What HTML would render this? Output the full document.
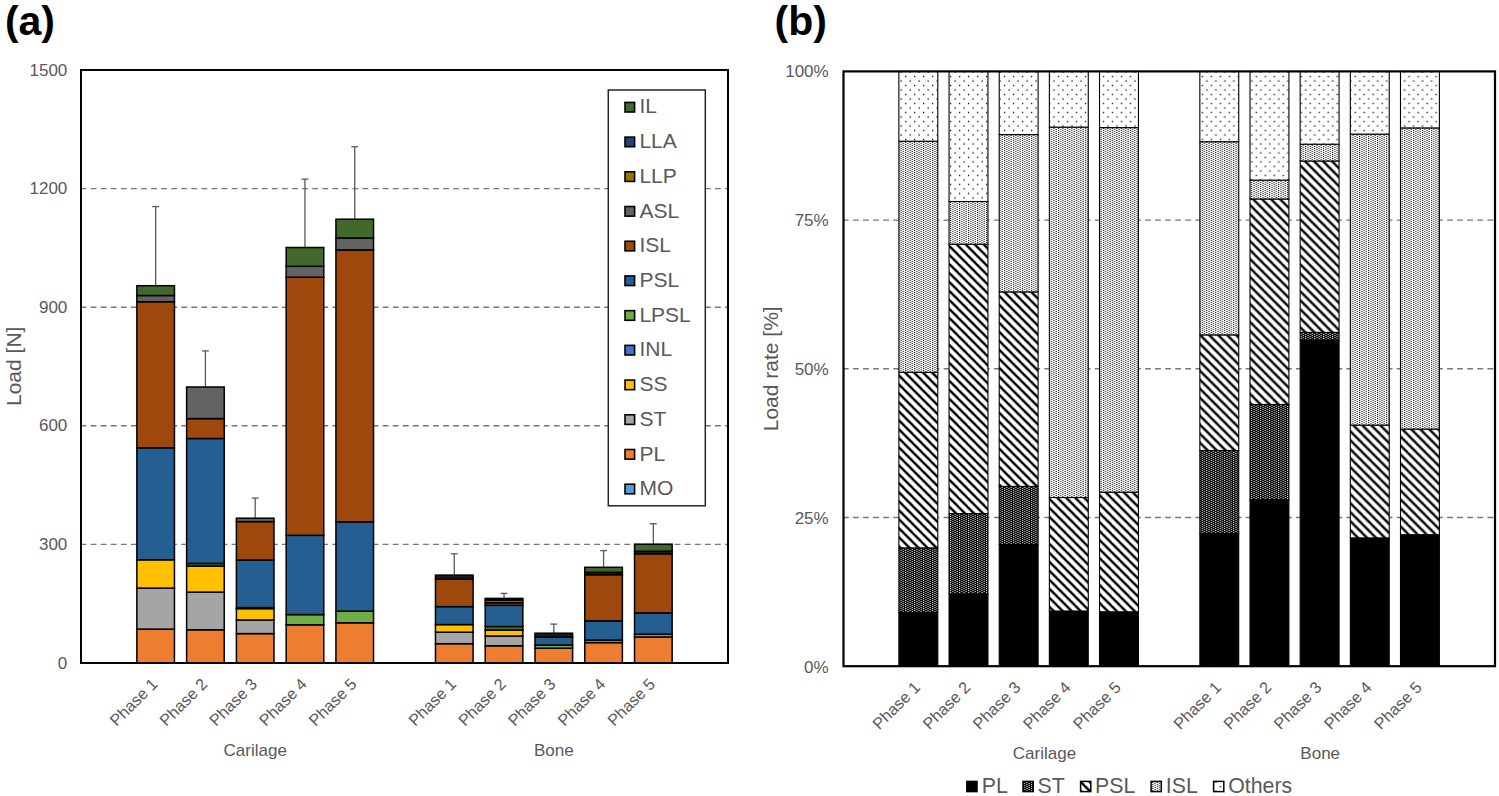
<!DOCTYPE html><html><head><meta charset="utf-8"><style>html,body{margin:0;padding:0;background:#fff;width:1499px;height:796px;overflow:hidden}svg{display:block}text{font-family:"Liberation Sans", sans-serif}</style></head><body>
<svg width="1499" height="796" viewBox="0 0 1499 796">
<defs>
<pattern id="pPSL" patternUnits="userSpaceOnUse" width="8.99" height="8.99" patternTransform="translate(6.04,3.92)"><rect width="8.99" height="8.99" fill="#fff"/><polygon points="-10.676,0 -7.304,0 1.686,8.99 -1.686,8.99" fill="#000"/><polygon points="-1.686,0 1.686,0 10.676,8.99 7.304,8.99" fill="#000"/><polygon points="7.304,0 10.676,0 19.666,8.99 16.294,8.99" fill="#000"/></pattern>
<pattern id="pOT" patternUnits="userSpaceOnUse" width="8.99" height="8.99" patternTransform="translate(6.04,3.92)"><rect width="8.99" height="8.99" fill="#fff"/><rect x="0" y="0" width="1.292" height="1.292" fill="#000"/><rect x="4.495" y="4.495" width="1.292" height="1.292" fill="#000"/></pattern>
<pattern id="pISL" patternUnits="userSpaceOnUse" width="4.495" height="2" patternTransform="translate(6.04,3.92)"><rect width="4.495" height="2" fill="#fff"/><rect x="0" y="0" width="1.124" height="1" fill="#000"/><rect x="2.248" y="1" width="1.124" height="1" fill="#000"/></pattern>
<pattern id="pST" patternUnits="userSpaceOnUse" width="4.495" height="2" patternTransform="translate(6.04,3.92)"><rect width="4.495" height="2" fill="#000"/><rect x="0" y="0" width="1.124" height="1" fill="#fff"/><rect x="2.248" y="1" width="1.124" height="1" fill="#fff"/></pattern>
</defs>
<text x="4.9" y="35.2" font-size="41" font-weight="bold" fill="#000">(a)</text>
<text x="774.5" y="35.2" font-size="41" font-weight="bold" fill="#000">(b)</text>
<line x1="80.6" y1="544.4" x2="727" y2="544.4" stroke="#777" stroke-width="1.4" stroke-dasharray="5.8 4.27"/>
<line x1="80.6" y1="425.8" x2="727" y2="425.8" stroke="#777" stroke-width="1.4" stroke-dasharray="5.8 4.27"/>
<line x1="80.6" y1="307.2" x2="727" y2="307.2" stroke="#777" stroke-width="1.4" stroke-dasharray="5.8 4.27"/>
<line x1="80.6" y1="188.6" x2="727" y2="188.6" stroke="#777" stroke-width="1.4" stroke-dasharray="5.8 4.27"/>
<text x="67.3" y="668.5" font-size="17" fill="#595959" text-anchor="end">0</text>
<text x="67.3" y="549.9" font-size="17" fill="#595959" text-anchor="end">300</text>
<text x="67.3" y="431.3" font-size="17" fill="#595959" text-anchor="end">600</text>
<text x="67.3" y="312.7" font-size="17" fill="#595959" text-anchor="end">900</text>
<text x="67.3" y="194.1" font-size="17" fill="#595959" text-anchor="end">1200</text>
<text x="67.3" y="75.5" font-size="17" fill="#595959" text-anchor="end">1500</text>
<text transform="translate(20.7,366.3) rotate(-90)" font-size="21" fill="#595959" text-anchor="middle">Load [N]</text>
<line x1="155.654" y1="206.6" x2="155.654" y2="285.7" stroke="#595959" stroke-width="1.3"/>
<line x1="152.254" y1="206.6" x2="159.054" y2="206.6" stroke="#595959" stroke-width="1.3"/>
<rect x="136.854" y="629.1" width="37.6" height="33.9" fill="#ED7D31" stroke="#000" stroke-width="1.5"/>
<rect x="136.854" y="588.1" width="37.6" height="41" fill="#A5A5A5" stroke="#000" stroke-width="1.5"/>
<rect x="136.854" y="559.8" width="37.6" height="28.3" fill="#FFC000" stroke="#000" stroke-width="1.5"/>
<rect x="136.854" y="447.8" width="37.6" height="112" fill="#255E91" stroke="#000" stroke-width="1.5"/>
<rect x="136.854" y="301.7" width="37.6" height="146.1" fill="#9E480E" stroke="#000" stroke-width="1.5"/>
<rect x="136.854" y="295.5" width="37.6" height="6.2" fill="#636363" stroke="#000" stroke-width="1.5"/>
<rect x="136.854" y="285.7" width="37.6" height="9.8" fill="#43682B" stroke="#000" stroke-width="1.5"/>
<line x1="205.423" y1="350.9" x2="205.423" y2="387" stroke="#595959" stroke-width="1.3"/>
<line x1="202.023" y1="350.9" x2="208.823" y2="350.9" stroke="#595959" stroke-width="1.3"/>
<rect x="186.623" y="629.8" width="37.6" height="33.2" fill="#ED7D31" stroke="#000" stroke-width="1.5"/>
<rect x="186.623" y="592.1" width="37.6" height="37.7" fill="#A5A5A5" stroke="#000" stroke-width="1.5"/>
<rect x="186.623" y="566" width="37.6" height="26.1" fill="#FFC000" stroke="#000" stroke-width="1.5"/>
<rect x="186.623" y="563.4" width="37.6" height="2.6" fill="#4a6b35" stroke="#000" stroke-width="1.5"/>
<rect x="186.623" y="438.5" width="37.6" height="124.9" fill="#255E91" stroke="#000" stroke-width="1.5"/>
<rect x="186.623" y="418.6" width="37.6" height="19.9" fill="#9E480E" stroke="#000" stroke-width="1.5"/>
<rect x="186.623" y="387" width="37.6" height="31.6" fill="#636363" stroke="#000" stroke-width="1.5"/>
<line x1="255.192" y1="498.1" x2="255.192" y2="518.2" stroke="#595959" stroke-width="1.3"/>
<line x1="251.792" y1="498.1" x2="258.592" y2="498.1" stroke="#595959" stroke-width="1.3"/>
<rect x="236.392" y="633.6" width="37.6" height="29.4" fill="#ED7D31" stroke="#000" stroke-width="1.5"/>
<rect x="236.392" y="620" width="37.6" height="13.6" fill="#A5A5A5" stroke="#000" stroke-width="1.5"/>
<rect x="236.392" y="608.6" width="37.6" height="11.4" fill="#FFC000" stroke="#000" stroke-width="1.5"/>
<rect x="236.392" y="607.6" width="37.6" height="1" fill="#1a1a1a" stroke="#000" stroke-width="1.5"/>
<rect x="236.392" y="560" width="37.6" height="47.6" fill="#255E91" stroke="#000" stroke-width="1.5"/>
<rect x="236.392" y="521.6" width="37.6" height="38.4" fill="#9E480E" stroke="#000" stroke-width="1.5"/>
<rect x="236.392" y="518.2" width="37.6" height="3.4" fill="#636363" stroke="#000" stroke-width="1.5"/>
<line x1="304.962" y1="179.1" x2="304.962" y2="247.5" stroke="#595959" stroke-width="1.3"/>
<line x1="301.562" y1="179.1" x2="308.362" y2="179.1" stroke="#595959" stroke-width="1.3"/>
<rect x="286.162" y="624.8" width="37.6" height="38.2" fill="#ED7D31" stroke="#000" stroke-width="1.5"/>
<rect x="286.162" y="614.6" width="37.6" height="10.2" fill="#70AD47" stroke="#000" stroke-width="1.5"/>
<rect x="286.162" y="535.3" width="37.6" height="79.3" fill="#255E91" stroke="#000" stroke-width="1.5"/>
<rect x="286.162" y="277.2" width="37.6" height="258.1" fill="#9E480E" stroke="#000" stroke-width="1.5"/>
<rect x="286.162" y="266.3" width="37.6" height="10.9" fill="#636363" stroke="#000" stroke-width="1.5"/>
<rect x="286.162" y="247.5" width="37.6" height="18.8" fill="#43682B" stroke="#000" stroke-width="1.5"/>
<line x1="354.731" y1="146.7" x2="354.731" y2="219.2" stroke="#595959" stroke-width="1.3"/>
<line x1="351.331" y1="146.7" x2="358.131" y2="146.7" stroke="#595959" stroke-width="1.3"/>
<rect x="335.931" y="622.8" width="37.6" height="40.2" fill="#ED7D31" stroke="#000" stroke-width="1.5"/>
<rect x="335.931" y="611.2" width="37.6" height="11.6" fill="#70AD47" stroke="#000" stroke-width="1.5"/>
<rect x="335.931" y="521.8" width="37.6" height="89.4" fill="#255E91" stroke="#000" stroke-width="1.5"/>
<rect x="335.931" y="249.9" width="37.6" height="271.9" fill="#9E480E" stroke="#000" stroke-width="1.5"/>
<rect x="335.931" y="238" width="37.6" height="11.9" fill="#636363" stroke="#000" stroke-width="1.5"/>
<rect x="335.931" y="219.2" width="37.6" height="18.8" fill="#43682B" stroke="#000" stroke-width="1.5"/>
<line x1="454.269" y1="553.8" x2="454.269" y2="575.1" stroke="#595959" stroke-width="1.3"/>
<line x1="450.869" y1="553.8" x2="457.669" y2="553.8" stroke="#595959" stroke-width="1.3"/>
<rect x="435.469" y="643.7" width="37.6" height="19.3" fill="#ED7D31" stroke="#000" stroke-width="1.5"/>
<rect x="435.469" y="632.2" width="37.6" height="11.5" fill="#A5A5A5" stroke="#000" stroke-width="1.5"/>
<rect x="435.469" y="624.6" width="37.6" height="7.6" fill="#FFC000" stroke="#000" stroke-width="1.5"/>
<rect x="435.469" y="606.6" width="37.6" height="18" fill="#255E91" stroke="#000" stroke-width="1.5"/>
<rect x="435.469" y="579.2" width="37.6" height="27.4" fill="#9E480E" stroke="#000" stroke-width="1.5"/>
<rect x="435.469" y="575.1" width="37.6" height="4.1" fill="#1a1a1a" stroke="#000" stroke-width="1.5"/>
<line x1="504.038" y1="593.4" x2="504.038" y2="598.4" stroke="#595959" stroke-width="1.3"/>
<line x1="500.638" y1="593.4" x2="507.438" y2="593.4" stroke="#595959" stroke-width="1.3"/>
<rect x="485.238" y="645.8" width="37.6" height="17.2" fill="#ED7D31" stroke="#000" stroke-width="1.5"/>
<rect x="485.238" y="636" width="37.6" height="9.8" fill="#A5A5A5" stroke="#000" stroke-width="1.5"/>
<rect x="485.238" y="630.1" width="37.6" height="5.9" fill="#FFC000" stroke="#000" stroke-width="1.5"/>
<rect x="485.238" y="626.5" width="37.6" height="3.6" fill="#4a6b35" stroke="#000" stroke-width="1.5"/>
<rect x="485.238" y="605.3" width="37.6" height="21.2" fill="#255E91" stroke="#000" stroke-width="1.5"/>
<rect x="485.238" y="602.8" width="37.6" height="2.5" fill="#9E480E" stroke="#000" stroke-width="1.5"/>
<rect x="485.238" y="600" width="37.6" height="2.8" fill="#636363" stroke="#000" stroke-width="1.5"/>
<rect x="485.238" y="598.4" width="37.6" height="1.6" fill="#1a1a1a" stroke="#000" stroke-width="1.5"/>
<line x1="553.808" y1="624.1" x2="553.808" y2="633.2" stroke="#595959" stroke-width="1.3"/>
<line x1="550.408" y1="624.1" x2="557.208" y2="624.1" stroke="#595959" stroke-width="1.3"/>
<rect x="535.008" y="648.2" width="37.6" height="14.8" fill="#ED7D31" stroke="#000" stroke-width="1.5"/>
<rect x="535.008" y="645" width="37.6" height="3.2" fill="#70AD47" stroke="#000" stroke-width="1.5"/>
<rect x="535.008" y="637" width="37.6" height="8" fill="#255E91" stroke="#000" stroke-width="1.5"/>
<rect x="535.008" y="633.2" width="37.6" height="3.8" fill="#1a1a1a" stroke="#000" stroke-width="1.5"/>
<line x1="603.577" y1="550.6" x2="603.577" y2="567.3" stroke="#595959" stroke-width="1.3"/>
<line x1="600.177" y1="550.6" x2="606.977" y2="550.6" stroke="#595959" stroke-width="1.3"/>
<rect x="584.777" y="642.6" width="37.6" height="20.4" fill="#ED7D31" stroke="#000" stroke-width="1.5"/>
<rect x="584.777" y="640" width="37.6" height="2.6" fill="#70AD47" stroke="#000" stroke-width="1.5"/>
<rect x="584.777" y="620.9" width="37.6" height="19.1" fill="#255E91" stroke="#000" stroke-width="1.5"/>
<rect x="584.777" y="574.7" width="37.6" height="46.2" fill="#9E480E" stroke="#000" stroke-width="1.5"/>
<rect x="584.777" y="572.3" width="37.6" height="2.4" fill="#1a1a1a" stroke="#000" stroke-width="1.5"/>
<rect x="584.777" y="567.3" width="37.6" height="5" fill="#43682B" stroke="#000" stroke-width="1.5"/>
<line x1="653.346" y1="523.7" x2="653.346" y2="544.2" stroke="#595959" stroke-width="1.3"/>
<line x1="649.946" y1="523.7" x2="656.746" y2="523.7" stroke="#595959" stroke-width="1.3"/>
<rect x="634.546" y="637" width="37.6" height="26" fill="#ED7D31" stroke="#000" stroke-width="1.5"/>
<rect x="634.546" y="634.2" width="37.6" height="2.8" fill="#70AD47" stroke="#000" stroke-width="1.5"/>
<rect x="634.546" y="612.9" width="37.6" height="21.3" fill="#255E91" stroke="#000" stroke-width="1.5"/>
<rect x="634.546" y="553.8" width="37.6" height="59.1" fill="#9E480E" stroke="#000" stroke-width="1.5"/>
<rect x="634.546" y="551.2" width="37.6" height="2.6" fill="#1a1a1a" stroke="#000" stroke-width="1.5"/>
<rect x="634.546" y="544.2" width="37.6" height="7" fill="#43682B" stroke="#000" stroke-width="1.5"/>
<rect x="81" y="70" width="647" height="593" fill="none" stroke="#000" stroke-width="2"/>
<text transform="translate(158.554,685.1) rotate(-45)" font-size="16.2" fill="#595959" text-anchor="end">Phase 1</text>
<text transform="translate(208.323,685.1) rotate(-45)" font-size="16.2" fill="#595959" text-anchor="end">Phase 2</text>
<text transform="translate(258.092,685.1) rotate(-45)" font-size="16.2" fill="#595959" text-anchor="end">Phase 3</text>
<text transform="translate(307.862,685.1) rotate(-45)" font-size="16.2" fill="#595959" text-anchor="end">Phase 4</text>
<text transform="translate(357.631,685.1) rotate(-45)" font-size="16.2" fill="#595959" text-anchor="end">Phase 5</text>
<text transform="translate(457.169,685.1) rotate(-45)" font-size="16.2" fill="#595959" text-anchor="end">Phase 1</text>
<text transform="translate(506.938,685.1) rotate(-45)" font-size="16.2" fill="#595959" text-anchor="end">Phase 2</text>
<text transform="translate(556.708,685.1) rotate(-45)" font-size="16.2" fill="#595959" text-anchor="end">Phase 3</text>
<text transform="translate(606.477,685.1) rotate(-45)" font-size="16.2" fill="#595959" text-anchor="end">Phase 4</text>
<text transform="translate(656.246,685.1) rotate(-45)" font-size="16.2" fill="#595959" text-anchor="end">Phase 5</text>
<text x="255.192" y="756.1" font-size="17" fill="#595959" text-anchor="middle">Carilage</text>
<text x="553.808" y="756.1" font-size="17" fill="#595959" text-anchor="middle">Bone</text>
<rect x="608.3" y="90" width="97" height="415.8" fill="#fff" stroke="#262626" stroke-width="1.5"/>
<rect x="625" y="102.4" width="9.6" height="9.6" fill="#43682B" stroke="#000" stroke-width="1.6"/>
<text x="639.4" y="113.4" font-size="21" fill="#595959">IL</text>
<rect x="625" y="137.11" width="9.6" height="9.6" fill="#264478" stroke="#000" stroke-width="1.6"/>
<text x="639.4" y="148.11" font-size="21" fill="#595959">LLA</text>
<rect x="625" y="171.82" width="9.6" height="9.6" fill="#997300" stroke="#000" stroke-width="1.6"/>
<text x="639.4" y="182.82" font-size="21" fill="#595959">LLP</text>
<rect x="625" y="206.53" width="9.6" height="9.6" fill="#636363" stroke="#000" stroke-width="1.6"/>
<text x="639.4" y="217.53" font-size="21" fill="#595959">ASL</text>
<rect x="625" y="241.24" width="9.6" height="9.6" fill="#9E480E" stroke="#000" stroke-width="1.6"/>
<text x="639.4" y="252.24" font-size="21" fill="#595959">ISL</text>
<rect x="625" y="275.95" width="9.6" height="9.6" fill="#255E91" stroke="#000" stroke-width="1.6"/>
<text x="639.4" y="286.95" font-size="21" fill="#595959">PSL</text>
<rect x="625" y="310.66" width="9.6" height="9.6" fill="#70AD47" stroke="#000" stroke-width="1.6"/>
<text x="639.4" y="321.66" font-size="21" fill="#595959">LPSL</text>
<rect x="625" y="345.37" width="9.6" height="9.6" fill="#4472C4" stroke="#000" stroke-width="1.6"/>
<text x="639.4" y="356.37" font-size="21" fill="#595959">INL</text>
<rect x="625" y="380.08" width="9.6" height="9.6" fill="#FFC000" stroke="#000" stroke-width="1.6"/>
<text x="639.4" y="391.08" font-size="21" fill="#595959">SS</text>
<rect x="625" y="414.79" width="9.6" height="9.6" fill="#A5A5A5" stroke="#000" stroke-width="1.6"/>
<text x="639.4" y="425.79" font-size="21" fill="#595959">ST</text>
<rect x="625" y="449.5" width="9.6" height="9.6" fill="#ED7D31" stroke="#000" stroke-width="1.6"/>
<text x="639.4" y="460.5" font-size="21" fill="#595959">PL</text>
<rect x="625" y="484.21" width="9.6" height="9.6" fill="#5B9BD5" stroke="#000" stroke-width="1.6"/>
<text x="639.4" y="495.21" font-size="21" fill="#595959">MO</text>
<line x1="842.9" y1="517.5" x2="1494" y2="517.5" stroke="#777" stroke-width="1.4" stroke-dasharray="5.8 4.27"/>
<line x1="842.9" y1="368.8" x2="1494" y2="368.8" stroke="#777" stroke-width="1.4" stroke-dasharray="5.8 4.27"/>
<line x1="842.9" y1="220.1" x2="1494" y2="220.1" stroke="#777" stroke-width="1.4" stroke-dasharray="5.8 4.27"/>
<text x="828.7" y="672.75" font-size="17" fill="#595959" text-anchor="end">0%</text>
<text x="828.7" y="523.75" font-size="17" fill="#595959" text-anchor="end">25%</text>
<text x="828.7" y="374.75" font-size="17" fill="#595959" text-anchor="end">50%</text>
<text x="828.7" y="225.75" font-size="17" fill="#595959" text-anchor="end">75%</text>
<text x="828.7" y="76.75" font-size="17" fill="#595959" text-anchor="end">100%</text>
<text transform="translate(777.5,368.8) rotate(-90)" font-size="21" fill="#595959" text-anchor="middle">Load rate [%]</text>
<rect x="898.89" y="612.5" width="38.9" height="53.7" fill="#000" stroke="#000" stroke-width="1.1"/>
<rect x="898.89" y="547.9" width="38.9" height="64.6" fill="url(#pST)" stroke="#000" stroke-width="1.1"/>
<rect x="898.89" y="372.3" width="38.9" height="175.6" fill="url(#pPSL)" stroke="#000" stroke-width="1.1"/>
<rect x="898.89" y="141.2" width="38.9" height="231.1" fill="url(#pISL)" stroke="#000" stroke-width="1.1"/>
<rect x="898.89" y="71.4" width="38.9" height="69.8" fill="url(#pOT)" stroke="#000" stroke-width="1.1"/>
<rect x="949.05" y="593.8" width="38.9" height="72.4" fill="#000" stroke="#000" stroke-width="1.1"/>
<rect x="949.05" y="513.6" width="38.9" height="80.2" fill="url(#pST)" stroke="#000" stroke-width="1.1"/>
<rect x="949.05" y="244.2" width="38.9" height="269.4" fill="url(#pPSL)" stroke="#000" stroke-width="1.1"/>
<rect x="949.05" y="201.5" width="38.9" height="42.7" fill="url(#pISL)" stroke="#000" stroke-width="1.1"/>
<rect x="949.05" y="71.4" width="38.9" height="130.1" fill="url(#pOT)" stroke="#000" stroke-width="1.1"/>
<rect x="999.21" y="544.5" width="38.9" height="121.7" fill="#000" stroke="#000" stroke-width="1.1"/>
<rect x="999.21" y="486.4" width="38.9" height="58.1" fill="url(#pST)" stroke="#000" stroke-width="1.1"/>
<rect x="999.21" y="291.9" width="38.9" height="194.5" fill="url(#pPSL)" stroke="#000" stroke-width="1.1"/>
<rect x="999.21" y="134.6" width="38.9" height="157.3" fill="url(#pISL)" stroke="#000" stroke-width="1.1"/>
<rect x="999.21" y="71.4" width="38.9" height="63.2" fill="url(#pOT)" stroke="#000" stroke-width="1.1"/>
<rect x="1049.37" y="611" width="38.9" height="55.2" fill="#000" stroke="#000" stroke-width="1.1"/>
<rect x="1049.37" y="497.5" width="38.9" height="113.5" fill="url(#pPSL)" stroke="#000" stroke-width="1.1"/>
<rect x="1049.37" y="127.1" width="38.9" height="370.4" fill="url(#pISL)" stroke="#000" stroke-width="1.1"/>
<rect x="1049.37" y="71.4" width="38.9" height="55.7" fill="url(#pOT)" stroke="#000" stroke-width="1.1"/>
<rect x="1099.53" y="611.8" width="38.9" height="54.4" fill="#000" stroke="#000" stroke-width="1.1"/>
<rect x="1099.53" y="492.2" width="38.9" height="119.6" fill="url(#pPSL)" stroke="#000" stroke-width="1.1"/>
<rect x="1099.53" y="127.6" width="38.9" height="364.6" fill="url(#pISL)" stroke="#000" stroke-width="1.1"/>
<rect x="1099.53" y="71.4" width="38.9" height="56.2" fill="url(#pOT)" stroke="#000" stroke-width="1.1"/>
<rect x="1199.85" y="533.4" width="38.9" height="132.8" fill="#000" stroke="#000" stroke-width="1.1"/>
<rect x="1199.85" y="450.5" width="38.9" height="82.9" fill="url(#pST)" stroke="#000" stroke-width="1.1"/>
<rect x="1199.85" y="334.9" width="38.9" height="115.6" fill="url(#pPSL)" stroke="#000" stroke-width="1.1"/>
<rect x="1199.85" y="141.7" width="38.9" height="193.2" fill="url(#pISL)" stroke="#000" stroke-width="1.1"/>
<rect x="1199.85" y="71.4" width="38.9" height="70.3" fill="url(#pOT)" stroke="#000" stroke-width="1.1"/>
<rect x="1250.01" y="499.6" width="38.9" height="166.6" fill="#000" stroke="#000" stroke-width="1.1"/>
<rect x="1250.01" y="404.5" width="38.9" height="95.1" fill="url(#pST)" stroke="#000" stroke-width="1.1"/>
<rect x="1250.01" y="199" width="38.9" height="205.5" fill="url(#pPSL)" stroke="#000" stroke-width="1.1"/>
<rect x="1250.01" y="180.1" width="38.9" height="18.9" fill="url(#pISL)" stroke="#000" stroke-width="1.1"/>
<rect x="1250.01" y="71.4" width="38.9" height="108.7" fill="url(#pOT)" stroke="#000" stroke-width="1.1"/>
<rect x="1300.17" y="339.9" width="38.9" height="326.3" fill="#000" stroke="#000" stroke-width="1.1"/>
<rect x="1300.17" y="332.4" width="38.9" height="7.5" fill="url(#pST)" stroke="#000" stroke-width="1.1"/>
<rect x="1300.17" y="161" width="38.9" height="171.4" fill="url(#pPSL)" stroke="#000" stroke-width="1.1"/>
<rect x="1300.17" y="144.2" width="38.9" height="16.8" fill="url(#pISL)" stroke="#000" stroke-width="1.1"/>
<rect x="1300.17" y="71.4" width="38.9" height="72.8" fill="url(#pOT)" stroke="#000" stroke-width="1.1"/>
<rect x="1350.33" y="537.9" width="38.9" height="128.3" fill="#000" stroke="#000" stroke-width="1.1"/>
<rect x="1350.33" y="425.1" width="38.9" height="112.8" fill="url(#pPSL)" stroke="#000" stroke-width="1.1"/>
<rect x="1350.33" y="134.1" width="38.9" height="291" fill="url(#pISL)" stroke="#000" stroke-width="1.1"/>
<rect x="1350.33" y="71.4" width="38.9" height="62.7" fill="url(#pOT)" stroke="#000" stroke-width="1.1"/>
<rect x="1400.49" y="534.7" width="38.9" height="131.5" fill="#000" stroke="#000" stroke-width="1.1"/>
<rect x="1400.49" y="429.1" width="38.9" height="105.6" fill="url(#pPSL)" stroke="#000" stroke-width="1.1"/>
<rect x="1400.49" y="127.9" width="38.9" height="301.2" fill="url(#pISL)" stroke="#000" stroke-width="1.1"/>
<rect x="1400.49" y="71.4" width="38.9" height="56.5" fill="url(#pOT)" stroke="#000" stroke-width="1.1"/>
<rect x="843.5" y="71.4" width="651.5" height="594.8" fill="none" stroke="#000" stroke-width="2.2"/>
<text transform="translate(921.24,688.5) rotate(-45)" font-size="16.2" fill="#595959" text-anchor="end">Phase 1</text>
<text transform="translate(971.4,688.5) rotate(-45)" font-size="16.2" fill="#595959" text-anchor="end">Phase 2</text>
<text transform="translate(1021.56,688.5) rotate(-45)" font-size="16.2" fill="#595959" text-anchor="end">Phase 3</text>
<text transform="translate(1071.72,688.5) rotate(-45)" font-size="16.2" fill="#595959" text-anchor="end">Phase 4</text>
<text transform="translate(1121.88,688.5) rotate(-45)" font-size="16.2" fill="#595959" text-anchor="end">Phase 5</text>
<text transform="translate(1222.2,688.5) rotate(-45)" font-size="16.2" fill="#595959" text-anchor="end">Phase 1</text>
<text transform="translate(1272.36,688.5) rotate(-45)" font-size="16.2" fill="#595959" text-anchor="end">Phase 2</text>
<text transform="translate(1322.52,688.5) rotate(-45)" font-size="16.2" fill="#595959" text-anchor="end">Phase 3</text>
<text transform="translate(1372.68,688.5) rotate(-45)" font-size="16.2" fill="#595959" text-anchor="end">Phase 4</text>
<text transform="translate(1422.84,688.5) rotate(-45)" font-size="16.2" fill="#595959" text-anchor="end">Phase 5</text>
<text x="1044.5" y="758.7" font-size="17" fill="#595959" text-anchor="middle">Carilage</text>
<text x="1320.2" y="758.7" font-size="17" fill="#595959" text-anchor="middle">Bone</text>
<rect x="966.8" y="781.4" width="10.2" height="10.2" fill="#000" stroke="#000" stroke-width="1.5"/>
<text x="981.8" y="793.1" font-size="21.3" fill="#595959">PL</text>
<rect x="1023" y="781.4" width="10.2" height="10.2" fill="url(#pST)" stroke="#000" stroke-width="1.5"/>
<text x="1037.5" y="793.1" font-size="21.3" fill="#595959">ST</text>
<rect x="1080.6" y="781.4" width="10.2" height="10.2" fill="url(#pPSL)" stroke="#000" stroke-width="1.5"/>
<text x="1095.1" y="793.1" font-size="21.3" fill="#595959">PSL</text>
<rect x="1151.1" y="781.4" width="10.2" height="10.2" fill="url(#pISL)" stroke="#000" stroke-width="1.5"/>
<text x="1165.8" y="793.1" font-size="21.3" fill="#595959">ISL</text>
<rect x="1213.6" y="781.4" width="10.2" height="10.2" fill="url(#pOT)" stroke="#000" stroke-width="1.5"/>
<text x="1228.3" y="793.1" font-size="21.3" fill="#595959">Others</text>
</svg></body></html>
